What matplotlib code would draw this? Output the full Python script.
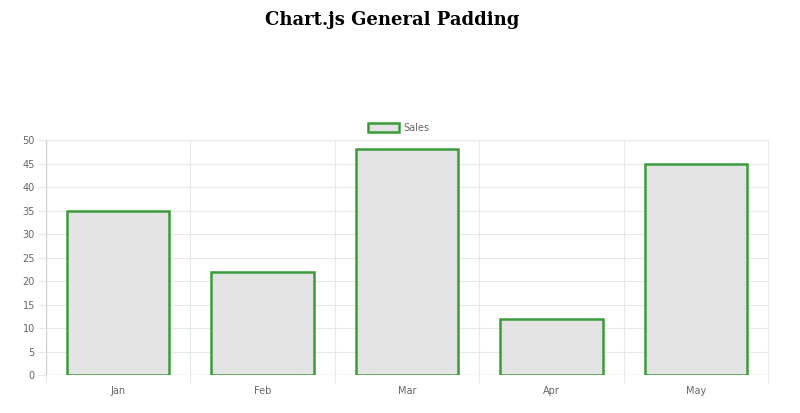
import numpy as np
import matplotlib
matplotlib.use("Agg")
import matplotlib.pyplot as plt
from matplotlib.patches import Rectangle

months = ["Jan", "Feb", "Mar", "Apr", "May"]
sales = [35, 22, 48, 12, 45]
y_ticks = [0, 5, 10, 15, 20, 25, 30, 35, 40, 45, 50]

fig = plt.figure(figsize=(8, 4.13), dpi=100)
ax = fig.add_axes([0.0575, 0.092, 0.9025, 0.569])

x = np.arange(len(months))
ax.bar(x, sales, width=0.71, color="#e3e3e3", edgecolor="#3c9a3c", linewidth=1.8, zorder=3)

ax.set_xlim(-0.5, len(months) - 0.5)
ax.set_ylim(0, 50)
ax.set_yticks(y_ticks)
ax.set_xticks(x)
ax.set_xticklabels(months)

# category boundary grid lines, like chart.js (with small tick marks below)
for b in np.arange(-0.5, len(months), 1.0):
    ax.axvline(b, ymin=-0.03, ymax=1, color="#e8e8e8", lw=0.8, zorder=0, clip_on=False)
for t in y_ticks:
    ax.axhline(t, color="#e8e8e8", lw=0.8, zorder=0)

for s in ax.spines.values():
    s.set_visible(False)
ax.axhline(0, color="#d0d0d0", lw=0.9, zorder=1)
ax.axvline(-0.5, color="#d0d0d0", lw=0.9, zorder=1)

ax.tick_params(axis="y", length=6, color="#e8e8e8", labelsize=7, labelcolor="#666666", pad=2)
ax.tick_params(axis="x", length=0, labelsize=7, labelcolor="#666666", pad=8)

# legend
leg_ax = fig.add_axes([0, 0, 1, 1], facecolor="none")
leg_ax.set_axis_off()
leg_ax.set_xlim(0, 800)
leg_ax.set_ylim(413, 0)
leg_ax.add_patch(Rectangle((368, 123), 31, 9, facecolor="#e3e3e3", edgecolor="#3c9a3c", lw=1.8))
leg_ax.text(403, 128, "Sales", fontsize=7, color="#666666", va="center", ha="left")

fig.text(0.49, 0.952, "Chart.js General Padding", ha="center", va="center",
         fontsize=13, fontweight="bold", family="DejaVu Serif")

fig.savefig("out.png", dpi=100)
